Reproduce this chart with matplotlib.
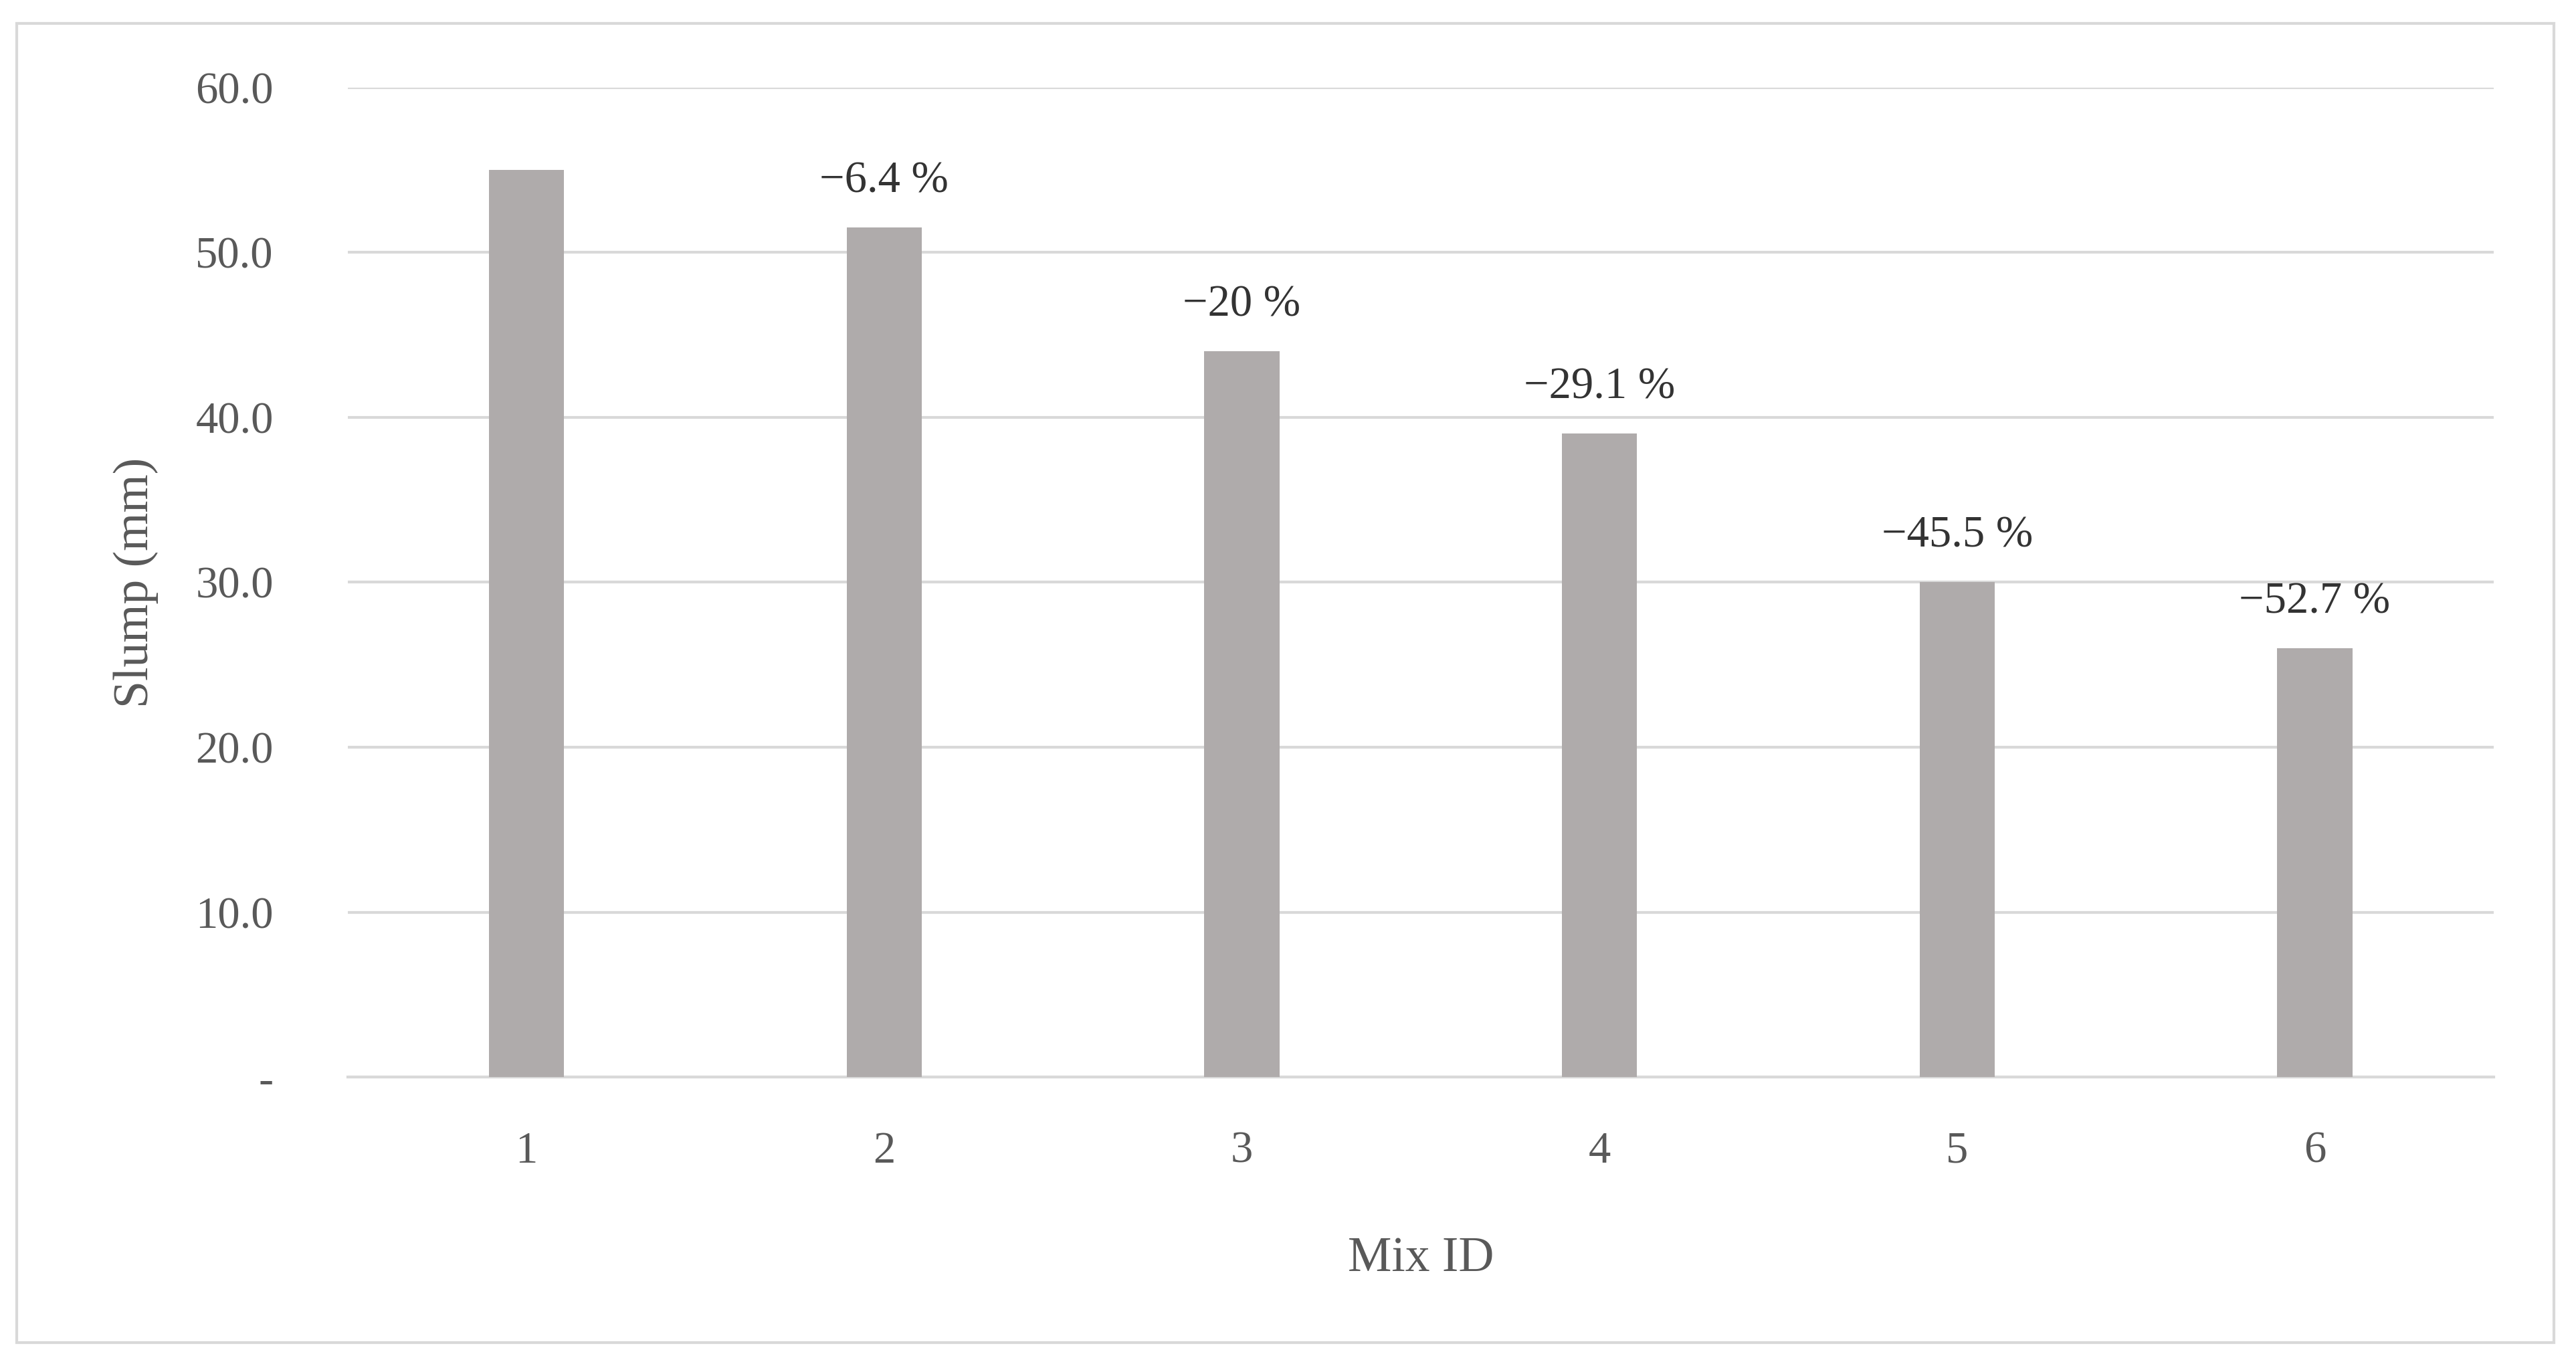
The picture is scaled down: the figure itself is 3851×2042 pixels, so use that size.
import matplotlib.pyplot as plt
from matplotlib.patches import Rectangle

plt.rcParams['font.family'] = ['Liberation Serif', 'DejaVu Serif']

mix_ids = ['1', '2', '3', '4', '5', '6']
slump = [55.0, 51.5, 44.0, 39.0, 30.0, 26.0]
labels = ['', '\u22126.4 %', '\u221220 %', '\u221229.1 %', '\u221245.5 %', '\u221252.7 %']
yticks = [0, 10, 20, 30, 40, 50, 60]
ytick_labels = ['-', '10.0', '20.0', '30.0', '40.0', '50.0', '60.0']

txt = '#595959'
fig = plt.figure(figsize=(38.51, 20.42), dpi=100)
ax = fig.add_axes([0.135, 0.2115, 0.833, 0.7245])

x = range(len(mix_ids))
ax.bar(x, slump, width=0.21, color='#afabab', zorder=3)
for i, (v, lab) in enumerate(zip(slump, labels)):
    if lab:
        ax.annotate(lab, (i, v), xytext=(0, 28), textcoords='offset points',
                    ha='center', va='bottom', fontsize=48, color='#333333')

ax.set_xlim(-0.5, len(mix_ids) - 0.5)
ax.set_ylim(0, 60)
ax.set_xticks(list(x))
ax.set_xticklabels(mix_ids)
ax.set_yticks(yticks)
ax.set_yticklabels(ytick_labels)
ax.tick_params(axis='both', length=0, labelsize=48, labelcolor=txt)
ax.tick_params(axis='x', pad=58)
ax.tick_params(axis='y', pad=80)
for lab in ax.get_yticklabels():
    lab.set_horizontalalignment('right')
ax.grid(axis='y', color='#d9d9d9', linewidth=3, zorder=0)
for s in ['top', 'right', 'left']:
    ax.spines[s].set_visible(False)
ax.spines['bottom'].set_color('#d9d9d9')
ax.spines['bottom'].set_linewidth(3)

ax.set_xlabel('Mix ID', fontsize=53, color=txt, labelpad=70)
ax.set_ylabel('Slump (mm)', fontsize=53, color=txt, labelpad=40)

fig.patches.append(Rectangle((0.0065, 0.017), 0.985, 0.966, transform=fig.transFigure,
                             fill=False, edgecolor='#d9d9d9', linewidth=3))

fig.savefig('out.png', dpi=100)
